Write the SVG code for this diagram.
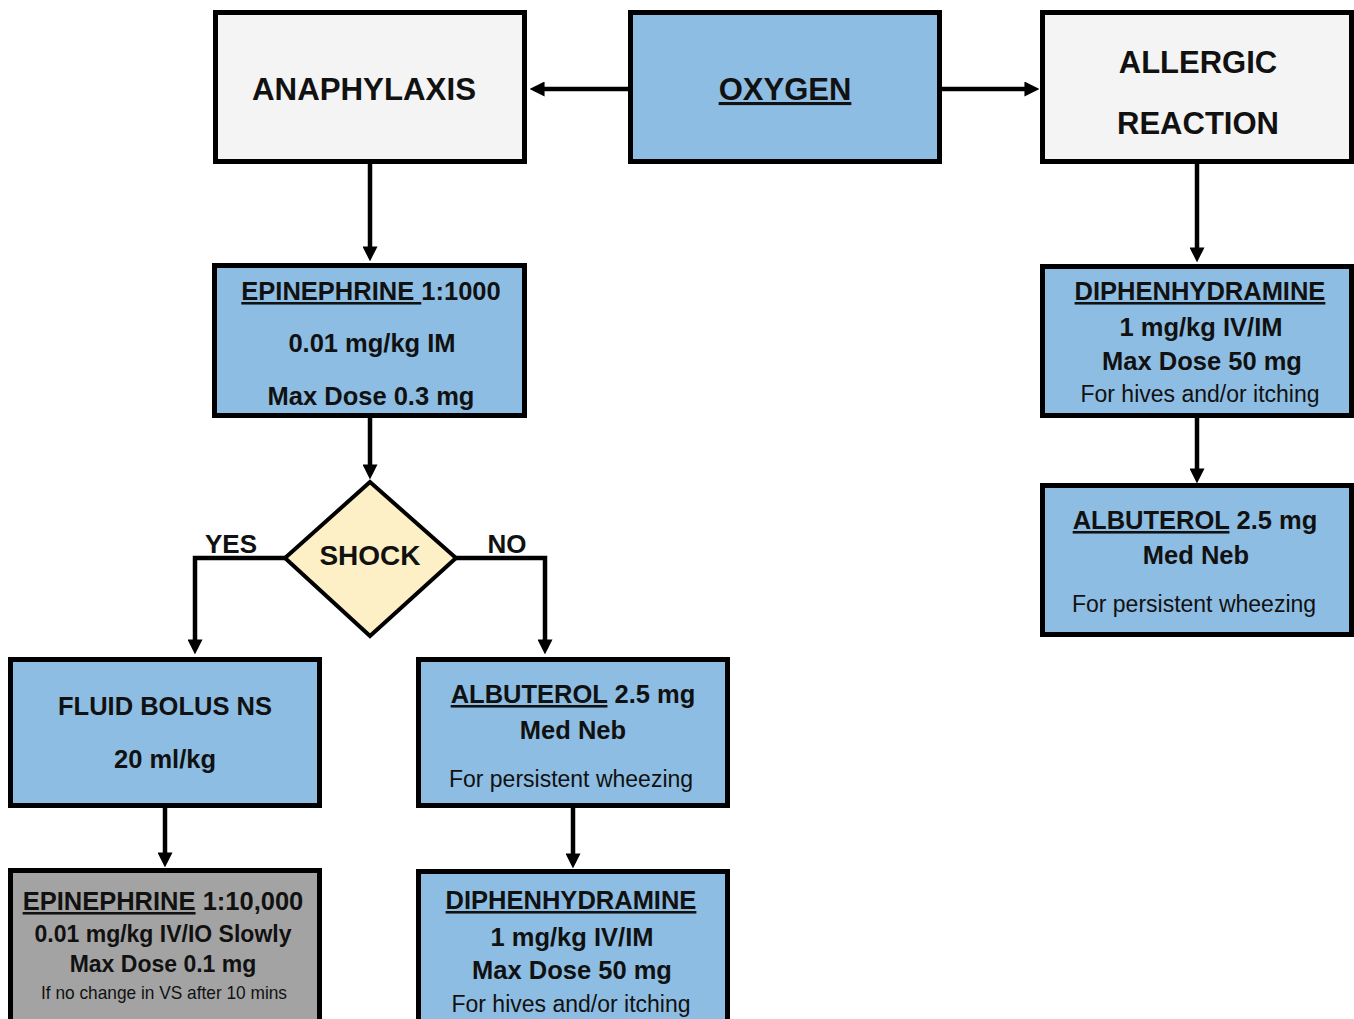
<svg xmlns="http://www.w3.org/2000/svg" width="1354" height="1019" viewBox="0 0 1354 1019">
<defs>
<style>
.box{stroke:#000;stroke-width:5}
.blue{fill:#8dbde3}
.light{fill:#f4f4f4}
.gray{fill:#a3a3a3}
.t{font-family:"Liberation Sans",Arial,sans-serif;text-anchor:middle;fill:#111}
.b{font-weight:bold}
.title{font-size:31px}
.m{font-size:25.5px}
.s{font-size:23px}
.sm{font-size:19px}
.u{text-decoration:underline}
.conn{fill:none;stroke:#000;stroke-width:4.5}
</style>
<marker id="ah" viewBox="0 0 14 14" refX="8" refY="7" markerWidth="15" markerHeight="15" markerUnits="userSpaceOnUse" orient="auto">
<path d="M0,0 L14,7 L0,14 z" fill="#000"/>
</marker>
</defs>
<rect width="1354" height="1019" fill="#fff"/>
<g id="connectors">
<path class="conn" d="M630,89 L536,89" marker-end="url(#ah)"/>
<path class="conn" d="M940,89 L1033,89" marker-end="url(#ah)"/>
<path class="conn" d="M370,164 L370,255" marker-end="url(#ah)"/>
<path class="conn" d="M370,418 L370,473" marker-end="url(#ah)"/>
<path class="conn" d="M286,558 L195,558 L195,648" marker-end="url(#ah)"/>
<path class="conn" d="M455,558 L545,558 L545,648" marker-end="url(#ah)"/>
<path class="conn" d="M165,808 L165,861" marker-end="url(#ah)"/>
<path class="conn" d="M573,808 L573,862" marker-end="url(#ah)"/>
<path class="conn" d="M1197,164 L1197,256" marker-end="url(#ah)"/>
<path class="conn" d="M1197,418 L1197,477" marker-end="url(#ah)"/>
<text class="t b" style="font-size:26px" x="231" y="553">YES</text>
<text class="t b" style="font-size:26px" x="507" y="553">NO</text>
</g>
<g id="anaphylaxis">
<rect class="box light" x="215.5" y="12.5" width="309" height="149"/>
<text class="t b title" x="364" y="100" textLength="224" lengthAdjust="spacingAndGlyphs">ANAPHYLAXIS</text>
</g>
<g id="oxygen">
<rect class="box blue" x="630.5" y="12.5" width="309" height="149"/>
<text class="t b title u" x="785" y="100">OXYGEN</text>
</g>
<g id="allergic">
<rect class="box light" x="1042.5" y="12.5" width="309" height="149"/>
<text class="t b title" x="1198" y="73">ALLERGIC</text>
<text class="t b title" x="1198" y="134">REACTION</text>
</g>
<g id="epi1000">
<rect class="box blue" x="214.5" y="265.5" width="310" height="150"/>
<text class="t b m" x="371" y="300" xml:space="preserve"><tspan class="u">EPINEPHRINE </tspan>1:1000</text>
<text class="t b m" x="372" y="352">0.01 mg/kg IM</text>
<text class="t b m" x="371" y="405">Max Dose 0.3 mg</text>
</g>
<g id="shock">
<polygon points="370,482 456,558 370,636 285,558" fill="#fdf0c6" stroke="#000" stroke-width="4" stroke-linejoin="miter"/>
<text class="t b" style="font-size:28px" x="370" y="565">SHOCK</text>
</g>
<g id="fluid">
<rect class="box blue" x="10.5" y="659.5" width="309" height="146"/>
<text class="t b m" x="165" y="715">FLUID BOLUS NS</text>
<text class="t b m" x="165" y="768">20 ml/kg</text>
</g>
<g id="epi10000">
<rect class="box gray" x="10.5" y="870.5" width="309" height="160"/>
<text class="t b m" x="163" y="910"><tspan class="u">EPINEPHRINE</tspan> 1:10,000</text>
<text class="t b s" x="163" y="942">0.01 mg/kg IV/IO Slowly</text>
<text class="t b s" x="163" y="972">Max Dose 0.1 mg</text>
<text class="t sm" x="164" y="999" textLength="246" lengthAdjust="spacingAndGlyphs">If no change in VS after 10 mins</text>
</g>
<g id="albuterol-mid">
<rect class="box blue" x="418.5" y="659.5" width="309" height="146"/>
<text class="t b m" x="573" y="703"><tspan class="u">ALBUTEROL</tspan> 2.5 mg</text>
<text class="t b m" x="573" y="739">Med Neb</text>
<text class="t s" x="571" y="787">For persistent wheezing</text>
</g>
<g id="diphen-mid">
<rect class="box blue" x="418.5" y="871.5" width="309" height="160"/>
<text class="t b m u" x="571" y="909">DIPHENHYDRAMINE</text>
<text class="t b m" x="572" y="946">1 mg/kg IV/IM</text>
<text class="t b m" x="572" y="979">Max Dose 50 mg</text>
<text class="t s" x="571" y="1012">For hives and/or itching</text>
</g>
<g id="diphen-right">
<rect class="box blue" x="1042.5" y="266.5" width="309" height="149"/>
<text class="t b m u" x="1200" y="300">DIPHENHYDRAMINE</text>
<text class="t b m" x="1201" y="336">1 mg/kg IV/IM</text>
<text class="t b m" x="1202" y="370">Max Dose 50 mg</text>
<text class="t s" x="1200" y="402">For hives and/or itching</text>
</g>
<g id="albuterol-right">
<rect class="box blue" x="1042.5" y="485.5" width="309" height="149"/>
<text class="t b m" x="1195" y="529"><tspan class="u">ALBUTEROL</tspan> 2.5 mg</text>
<text class="t b m" x="1196" y="564">Med Neb</text>
<text class="t s" x="1194" y="612">For persistent wheezing</text>
</g>
</svg>
